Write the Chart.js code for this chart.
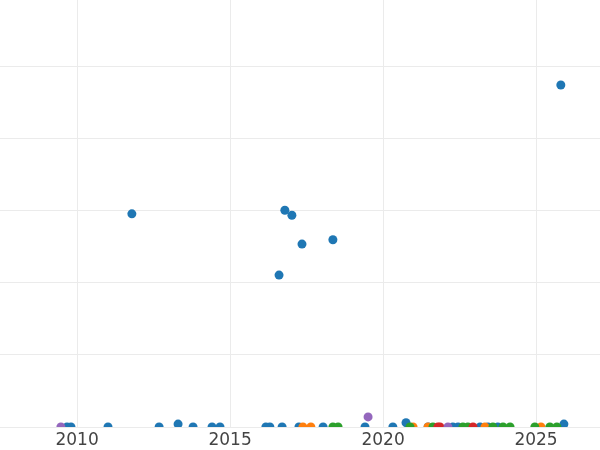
<!DOCTYPE html>
<html>
<head>
<meta charset="utf-8">
<script src="https://cdn.jsdelivr.net/npm/chart.js@4"></script>
<style>
  html, body { margin: 0; padding: 0; background: #fff; }
  #wrap { width: 600px; height: 450px; }
</style>
</head>
<body>
<div id="wrap"><canvas id="chart" width="600" height="450"></canvas></div>
<script>
// ── Data (x = year, y = value in grid units) ───────────────
const xTicks = [2010, 2015, 2020, 2025];
const yTicks = [0, 1, 2, 3, 4, 5];

const blueX = [2009.67, 2009.80, 2011.01, 2011.79, 2012.68, 2013.30, 2013.79, 2014.41, 2014.67,
               2016.17, 2016.30, 2016.60, 2016.70, 2016.79, 2017.02, 2017.25, 2017.35, 2018.04,
               2018.36, 2019.41, 2020.32, 2020.75, 2021.47, 2022.28, 2022.45, 2023.17, 2023.43,
               2023.75, 2025.81, 2025.91];
const blueY = [0, 0, 0, 2.96, 0, 0.04, 0, 0, 0,
               0, 0, 2.11, 0, 3.01, 2.94, 0, 2.54, 0,
               2.60, 0, 0, 0.06, 0, 0, 0, 0, 0,
               0, 4.75, 0.04];

const orangeX = [2017.38, 2017.64, 2020.98, 2021.47, 2023.33, 2025.16];
const orangeY = [0, 0, 0, 0, 0, 0];

const greenX = [2018.36, 2018.53, 2020.88, 2021.63, 2022.61, 2022.77, 2023.59, 2023.92,
                2024.15, 2024.96, 2025.45, 2025.68];
const greenY = [0, 0, 0, 0, 0, 0, 0, 0, 0, 0, 0, 0];

const redX = [2021.79, 2021.86, 2022.94];
const redY = [0, 0, 0];

const purpleX = [2009.47, 2019.51, 2022.12];
const purpleY = [0, 0.14, 0];

const COLORS = {
  blue:   '#1f77b4',
  orange: '#ff7f0e',
  green:  '#2ca02c',
  red:    '#d62728',
  purple: '#9467bd',
};

const pts = (xs, ys) => xs.map((x, i) => ({ x, y: ys[i] }));

function series(xs, ys, color) {
  return {
    data: pts(xs, ys),
    backgroundColor: color,
    borderWidth: 0,
    pointRadius: 4.5,
    pointHoverRadius: 4.5,
    clip: 0,
  };
}

new Chart(document.getElementById('chart'), {
  type: 'scatter',
  data: {
    datasets: [
      series(purpleX, purpleY, COLORS.purple),
      series(redX, redY, COLORS.red),
      series(greenX, greenY, COLORS.green),
      series(orangeX, orangeY, COLORS.orange),
      series(blueX, blueY, COLORS.blue),
    ],
  },
  options: {
    responsive: false,
    animation: false,
    layout: { padding: 0, autoPadding: false },
    plugins: { legend: { display: false }, tooltip: { enabled: false } },
    scales: {
      x: {
        type: 'linear',
        min: 2007.48,
        max: 2027.09,
        afterBuildTicks: s => { s.ticks = xTicks.map(v => ({ value: v })); },
        afterFit: s => { s.height = 23; },
        grid:   { color: '#ebebeb', drawTicks: false },
        border: { display: false },
        ticks:  {
          padding: 3,
          color: '#444444',
          font: { family: "'DejaVu Sans', sans-serif", size: 17 },
          callback: v => String(v),
        },
      },
      y: {
        min: 0,
        max: 5.93,
        afterBuildTicks: s => { s.ticks = yTicks.map(v => ({ value: v })); },
        grid:   { color: '#ebebeb', drawTicks: false },
        border: { display: false },
        ticks:  { display: false },
      },
    },
  },
});
</script>
</body>
</html>
